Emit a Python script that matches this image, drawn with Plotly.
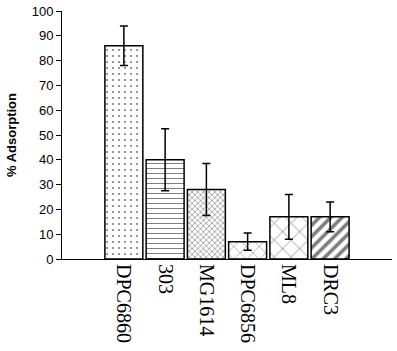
import plotly.graph_objects as go

categories = ["DPC6860", "303", "MG1614", "DPC6856", "ML8", "DRC3"]
values = [86, 40, 28, 7, 17, 17]
errors = [8, 12.5, 10.5, 3.5, 9, 6]
y_ticks = [0, 10, 20, 30, 40, 50, 60, 70, 80, 90, 100]

patterns = [".", "-", "x", "x", "x", "/"]
pattern_sizes = [6, 5, 4, 9, 12, 8]
pattern_solidity = [0.1, 0.2, 0.3, 0.12, 0.12, 0.45]

fig = go.Figure()
fig.add_trace(go.Bar(
    x=categories,
    y=values,
    width=0.92,
    marker=dict(
        color="white",
        line=dict(color="black", width=1.5),
        pattern=dict(shape=patterns, size=pattern_sizes, solidity=pattern_solidity,
                     fgcolor="black", bgcolor="white", fillmode="overlay"),
    ),
    error_y=dict(type="data", array=errors, visible=True, color="black",
                 thickness=1.5, width=4),
))

fig.update_layout(
    width=397, height=351,
    margin=dict(l=62, r=5, t=11, b=92),
    paper_bgcolor="white", plot_bgcolor="white",
    showlegend=False,
    xaxis=dict(
        type="category", range=[-1.5, 6.5], automargin=False,
        showline=True, linecolor="black", linewidth=1,
        ticks="", tickangle=90,
        tickfont=dict(family="Liberation Serif", size=20, color="black"),
        showgrid=False, zeroline=False,
    ),
    yaxis=dict(
        range=[0, 100], tickvals=y_ticks, automargin=False,
        showline=True, linecolor="black", linewidth=1,
        ticks="outside", ticklen=5, tickcolor="black",
        tickfont=dict(family="Liberation Sans", size=13, color="black"),
        showgrid=False, zeroline=False,
        title=dict(text="<b>% Adsorption</b>",
                   font=dict(family="Liberation Sans", size=13, color="black"),
                   standoff=12),
    ),
)

fig.write_html("out.html", config={"displayModeBar": False},
               post_script="document.body.style.margin='0px';")
